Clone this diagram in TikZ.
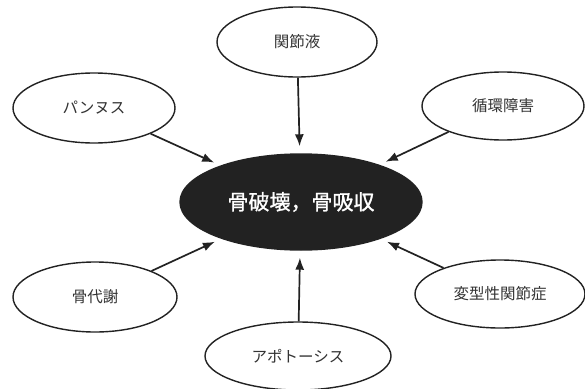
\documentclass[tikz,border=0pt]{standalone}
\usepackage{fontspec}
\newfontfamily\jp{Noto Sans CJK JP}
\newfontfamily\jpb[FakeBold=1.2]{Noto Sans CJK JP}
\usetikzlibrary{shapes.geometric,arrows.meta}
\definecolor{ink}{HTML}{222222}
\definecolor{txt}{HTML}{333333}
\tikzset{
  outer/.style={ellipse, draw=ink, line width=1.4pt, fill=white, inner sep=0pt,
    font=\jp\fontsize{15.5}{15.5}\selectfont, text=txt},
  core/.style={ellipse, draw=ink, line width=1.4pt, fill=ink, inner sep=0pt,
    font=\jpb\fontsize{21}{21}\selectfont, text=white},
  link/.style={draw=ink, line width=1.7pt, -{Latex[length=12pt,width=9pt]}, shorten >=7pt}
}
\begin{document}
\begin{tikzpicture}[x=1pt,y=-1pt]
\useasboundingbox[fill=white] (0,0) rectangle (585,388);
\node[core, minimum width=242pt, minimum height=96pt] (c) at (301,202) {骨破壊，骨吸収};
\node[outer, minimum width=160pt, minimum height=70pt] (kansetsu) at (297,42) {関節液};
\node[outer, minimum width=162pt, minimum height=70pt] (pannus) at (94,108) {パンヌス};
\node[outer, minimum width=162pt, minimum height=68pt] (junkan) at (503,106) {循環障害};
\node[outer, minimum width=164pt, minimum height=70pt] (kotsu) at (95,297) {骨代謝};
\node[outer, minimum width=170pt, minimum height=68pt] (henkei) at (500,294) {変型性関節症};
\node[outer, minimum width=186pt, minimum height=68pt] (apo) at (298,356) {アポトーシス};
\draw[link] (kansetsu) -- (c);
\draw[link] (pannus) -- (c);
\draw[link] (junkan) -- (c);
\draw[link] (kotsu) -- (c);
\draw[link] (henkei) -- (c);
\draw[link] (apo) -- (c);
\end{tikzpicture}
\end{document}
